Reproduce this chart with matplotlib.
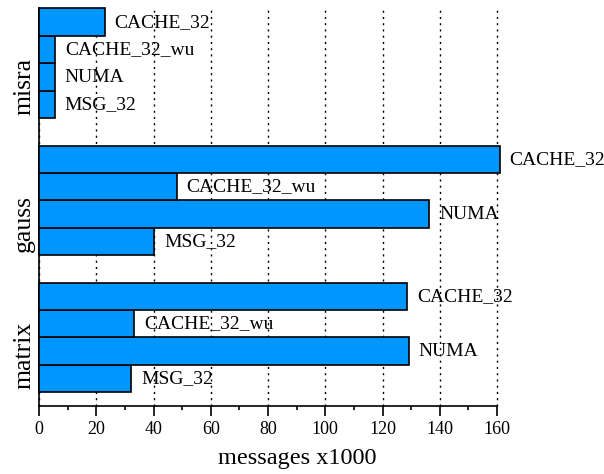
import numpy as np
import matplotlib
matplotlib.use("Agg")
import matplotlib.pyplot as plt

plt.rcParams['font.family'] = ['Liberation Serif', 'DejaVu Serif']

# benchmarks from bottom to top
groups = ['matrix', 'gauss', 'misra']
series = ['MSG_32', 'NUMA', 'CACHE_32_wu', 'CACHE_32']

msg_32 = [32.3, 40.3, 5.6]
numa = [129.1, 136.4, 5.6]
cache_32_wu = [33.2, 48.1, 5.6]
cache_32 = [128.6, 161.0, 23.0]

values = [msg_32, numa, cache_32_wu, cache_32]

fig = plt.figure(figsize=(6.04, 4.74), dpi=100)
ax = fig.add_axes([0.0646, 0.1435, 0.7583, 0.8386])

bar_h = 0.2
pos = np.arange(len(groups))
for i, (name, vals) in enumerate(zip(series, values)):
    off = (i - 1.5) * bar_h
    ax.barh(pos + off, vals, height=bar_h, color='#0096FF',
            edgecolor='black', linewidth=1.2, zorder=3, clip_on=False)
    for y, v in zip(pos + off, vals):
        ax.annotate(name, (v, y), xytext=(7, 0), textcoords='offset points',
                    ha='left', va='center', fontsize=14, annotation_clip=False)

# group names sit near the bottom of each group, rotated
for p, g in zip(pos, groups):
    ax.text(-0.008, p - 2 * bar_h + 0.025, g, rotation=90, ha='right', va='bottom',
            fontsize=18.5, transform=ax.get_yaxis_transform())

ax.set_xlim(0, 160)
ax.set_ylim(-0.5, 2.4)
ax.set_xticks(np.arange(0, 161, 20))
ax.set_xticks(np.arange(10, 160, 20), minor=True)
ax.set_yticks([])
ax.tick_params(axis='x', which='major', length=7, width=1.2, labelsize=13,
               direction='out', pad=4)
ax.tick_params(axis='x', which='minor', length=3, width=1.2, direction='out')

ax.xaxis.grid(True, which='major', color='black', linestyle=(0, (1.5, 3)),
              linewidth=1, zorder=0)
for gl in ax.get_xgridlines():
    gl.set_clip_on(False)
ax.set_axisbelow(True)

for s in ['top', 'right']:
    ax.spines[s].set_visible(False)
for s in ['left', 'bottom']:
    ax.spines[s].set_linewidth(1.2)

ax.set_xlabel('messages x1000', fontsize=17.5, labelpad=7)
ax.xaxis.label.set_x(0.563)

fig.savefig('out.png', dpi=100)
